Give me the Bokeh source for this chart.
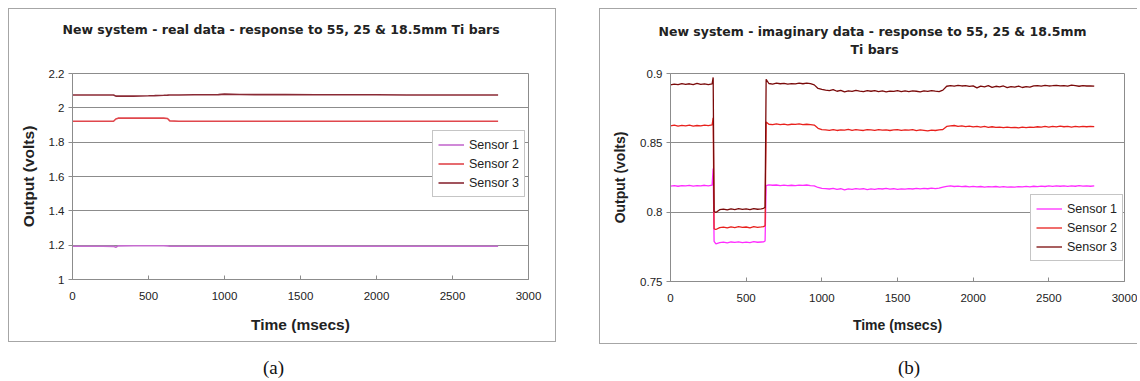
from bokeh.plotting import figure
from bokeh.models import FixedTicker, CustomJSTickFormatter, Legend, LegendItem, Title, Div, Spacer
from bokeh.layouts import row, column
from bokeh.embed import file_html
from bokeh.resources import INLINE

FONT = "Liberation Sans"
TFONT = "DejaVu Sans"

# ---------------- data: chart (a) real data ----------------
TITLE_A = "New system - real data - response to 55, 25 & 18.5mm Ti bars"
TA = [0, 100, 200, 270, 285, 300, 400, 500, 540, 600, 625, 640, 700, 800, 900,
      960, 1000, 1100, 1200, 1400, 1600, 1800, 2000, 2200, 2400, 2600, 2800]
S1A = [1.194, 1.194, 1.194, 1.193, 1.188, 1.196, 1.197, 1.197, 1.197, 1.197, 1.196, 1.194, 1.194, 1.194, 1.194,
       1.194, 1.194, 1.194, 1.194, 1.194, 1.194, 1.194, 1.194, 1.194, 1.194, 1.194, 1.194]
S2A = [1.922, 1.922, 1.922, 1.922, 1.935, 1.940, 1.940, 1.940, 1.940, 1.940, 1.938, 1.924, 1.922, 1.922, 1.922,
       1.922, 1.922, 1.922, 1.922, 1.922, 1.922, 1.922, 1.922, 1.922, 1.922, 1.922, 1.922]
S3A = [2.075, 2.075, 2.075, 2.075, 2.068, 2.069, 2.068, 2.070, 2.071, 2.073, 2.074, 2.075, 2.075, 2.076, 2.076,
       2.077, 2.080, 2.078, 2.077, 2.077, 2.076, 2.076, 2.076, 2.075, 2.075, 2.075, 2.075]
YTICKS_A = [1, 1.2, 1.4, 1.6, 1.8, 2, 2.2]

# ---------------- data: chart (b) imaginary data ----------------
TITLE_B1 = "New system - imaginary data - response to 55, 25 & 18.5mm"
TITLE_B2 = "Ti bars"
TB = [0, 25, 50, 75, 100, 125, 150, 175, 200, 225, 250, 275,
      282, 288,
      300, 325, 350, 375, 400, 425, 450, 475, 500, 525, 550, 575, 600,
      615, 625, 632,
      650, 675, 700, 725, 750, 775, 800, 825, 850, 875, 900, 925, 950, 975, 1000,
      1025, 1050, 1075, 1100, 1125, 1150, 1175, 1200, 1225, 1250,
      1275, 1300, 1325, 1350, 1375, 1400, 1425, 1450, 1475, 1500,
      1525, 1550, 1575, 1600, 1625, 1650, 1675, 1700, 1725, 1750,
      1775, 1800,
      1825, 1850, 1875, 1900, 1925, 1950, 1975, 2000, 2025, 2050,
      2075, 2100, 2125, 2150, 2175, 2200, 2225, 2250, 2275, 2300,
      2325, 2350, 2375, 2400, 2425, 2450, 2475, 2500, 2525, 2550,
      2575, 2600, 2625, 2650, 2675, 2700, 2725, 2750, 2775, 2800]
S3B = [0.8918, 0.8924, 0.8920, 0.8927, 0.8921, 0.8926, 0.8919, 0.8928, 0.8922, 0.8925, 0.8920, 0.8926,
       0.8972, 0.8005,
       0.7998, 0.8018, 0.8022, 0.8016, 0.8024, 0.8019, 0.8025, 0.8020, 0.8023, 0.8018, 0.8026, 0.8021, 0.8024,
       0.8028, 0.8035, 0.8958,
       0.8928, 0.8924, 0.8930, 0.8926, 0.8929, 0.8923, 0.8927, 0.8925, 0.8930, 0.8926, 0.8931, 0.8927, 0.8918, 0.8892, 0.8885,
       0.8880, 0.8876, 0.8884, 0.8872, 0.8879, 0.8868, 0.8875, 0.8871, 0.8878, 0.8873,
       0.8869, 0.8876, 0.8872, 0.8877, 0.8870, 0.8874, 0.8868, 0.8873, 0.8871, 0.8876,
       0.8869, 0.8874, 0.8870, 0.8875, 0.8872, 0.8868, 0.8874, 0.8871, 0.8877, 0.8873,
       0.8870, 0.8880,
       0.8908, 0.8912, 0.8909, 0.8914, 0.8910, 0.8913, 0.8907, 0.8911, 0.8896, 0.8909,
       0.8904, 0.8912, 0.8900, 0.8908, 0.8903, 0.8910, 0.8898, 0.8906, 0.8901, 0.8909,
       0.8899, 0.8905, 0.8902, 0.8911, 0.8913, 0.8909, 0.8914, 0.8910, 0.8912, 0.8915,
       0.8911, 0.8913, 0.8909, 0.8916, 0.8912, 0.8908, 0.8913, 0.8910, 0.8911, 0.8909]
S2B = [0.8622, 0.8627, 0.8620, 0.8626, 0.8623, 0.8628, 0.8621, 0.8625, 0.8622, 0.8627, 0.8624, 0.8629,
       0.8680, 0.7880,
       0.7875, 0.7888, 0.7892, 0.7886, 0.7894, 0.7889, 0.7895, 0.7890, 0.7893, 0.7887, 0.7896, 0.7891, 0.7894,
       0.7896, 0.7902, 0.8650,
       0.8634, 0.8631, 0.8636, 0.8632, 0.8635, 0.8630, 0.8634, 0.8633, 0.8636, 0.8631, 0.8634, 0.8632, 0.8628, 0.8605, 0.8596,
       0.8593, 0.8590, 0.8596, 0.8589, 0.8594, 0.8591, 0.8597, 0.8590, 0.8595, 0.8592,
       0.8589, 0.8596, 0.8593, 0.8590, 0.8595, 0.8591, 0.8594, 0.8589, 0.8593, 0.8596,
       0.8590, 0.8594, 0.8591, 0.8595, 0.8588, 0.8593, 0.8590, 0.8586, 0.8592, 0.8589,
       0.8594, 0.8596,
       0.8618, 0.8622, 0.8625, 0.8619, 0.8623, 0.8617, 0.8621, 0.8615, 0.8619, 0.8614,
       0.8618, 0.8612, 0.8616, 0.8611, 0.8614, 0.8610, 0.8613, 0.8609, 0.8612, 0.8608,
       0.8613, 0.8610, 0.8614, 0.8611, 0.8616, 0.8613, 0.8618, 0.8614, 0.8619, 0.8615,
       0.8620, 0.8616, 0.8619, 0.8614, 0.8618, 0.8615, 0.8619, 0.8616, 0.8618, 0.8617]
S1B = [0.8188, 0.8191, 0.8187, 0.8192, 0.8189, 0.8193, 0.8188, 0.8191, 0.8190, 0.8194, 0.8189, 0.8195,
       0.8315, 0.7790,
       0.7772, 0.7781, 0.7784, 0.7779, 0.7785, 0.7782, 0.7786, 0.7781, 0.7784, 0.7780, 0.7787, 0.7783, 0.7785,
       0.7786, 0.7792, 0.8192,
       0.8197, 0.8194, 0.8196, 0.8192, 0.8195, 0.8191, 0.8194, 0.8192, 0.8195, 0.8193, 0.8196, 0.8192, 0.8190, 0.8178, 0.8172,
       0.8170, 0.8167, 0.8172, 0.8165, 0.8169, 0.8160, 0.8168, 0.8164, 0.8170, 0.8166,
       0.8169, 0.8163, 0.8168, 0.8165, 0.8170, 0.8167, 0.8171, 0.8166, 0.8169, 0.8164,
       0.8168, 0.8166, 0.8170, 0.8167, 0.8171, 0.8168, 0.8172, 0.8169, 0.8173, 0.8170,
       0.8174, 0.8180,
       0.8186, 0.8189, 0.8185, 0.8188, 0.8184, 0.8187, 0.8183, 0.8186, 0.8182, 0.8185,
       0.8181, 0.8184, 0.8182, 0.8185, 0.8181, 0.8184, 0.8180, 0.8183, 0.8181, 0.8184,
       0.8182, 0.8186, 0.8183, 0.8187, 0.8184, 0.8188, 0.8185, 0.8189, 0.8186, 0.8190,
       0.8187, 0.8189, 0.8186, 0.8190, 0.8187, 0.8191, 0.8188, 0.8190, 0.8187, 0.8189]
YTICKS_B = [0.75, 0.8, 0.85, 0.9]
XTICKS = [0, 500, 1000, 1500, 2000, 2500, 3000]
SERIES = ["Sensor 1", "Sensor 2", "Sensor 3"]
COLORS_A = ["#c56ccf", "#e0474c", "#8a2a35"]
COLORS_B = ["#ff2cff", "#e8201c", "#7a0a0a"]

GRAY = "#8c8c8c"
TXT = "#222222"
FMT = CustomJSTickFormatter(code="return String(Number(tick.toFixed(4)));")


def make_fig(width, height, y0, y1, ml, mr, mt, mb, shadow, yticks):
    p = figure(width=width, height=height, x_range=(0, 3000), y_range=(y0, y1),
               output_backend="svg", toolbar_location=None,
               min_border_left=ml, min_border_right=mr, min_border_top=mt, min_border_bottom=mb,
               border_fill_color=None, background_fill_color="white",
               outline_line_color=GRAY, outline_line_width=1,
               styles={"box-shadow": shadow})
    p.xgrid.visible = False
    p.ygrid.grid_line_color = GRAY
    p.ygrid.grid_line_width = 1
    p.xaxis.ticker = FixedTicker(ticks=XTICKS)
    p.yaxis.ticker = FixedTicker(ticks=yticks)
    p.xaxis.formatter = FMT
    p.yaxis.formatter = FMT
    for ax in (p.xaxis[0], p.yaxis[0]):
        ax.axis_line_color = GRAY
        ax.major_tick_line_color = GRAY
        ax.minor_tick_line_color = None
        ax.major_label_text_font = FONT
        ax.major_label_text_font_size = "11.5px"
        ax.major_label_text_color = TXT
        ax.axis_label_text_font = FONT
        ax.axis_label_text_font_style = "bold"
        ax.axis_label_text_color = TXT
    p.xaxis.major_tick_in = 4
    p.xaxis.major_tick_out = 0
    p.yaxis.major_tick_in = 0
    p.yaxis.major_tick_out = 4
    p.xaxis.major_label_standoff = 12
    p.yaxis.major_label_standoff = 4
    p.xaxis.axis_label = "Time (msecs)"
    p.yaxis.axis_label = "Output (volts)"
    return p


def add_gap(p, standoff):
    # blank (non-breaking space) title that reserves vertical room between frame and title
    p.add_layout(Title(text="\u00a0", text_font=FONT, text_font_size="10px", standoff=standoff,
                       text_color=TXT), "above")


def add_title(p, text, standoff, offset):
    p.add_layout(Title(text=text, align="left", offset=offset, standoff=standoff,
                       text_font=TFONT, text_font_size="12.5px", text_font_style="bold",
                       text_color=TXT), "above")


def add_legend(p, renderers, loc):
    items = [LegendItem(label=s, renderers=[r]) for s, r in zip(SERIES, renderers)]
    leg = Legend(items=items, location=loc, border_line_color=GRAY, border_line_width=1,
                 background_fill_color="white", background_fill_alpha=1,
                 label_text_font=FONT, label_text_font_size="12.5px", label_text_color=TXT,
                 glyph_width=26, glyph_height=17, label_height=17, label_standoff=5,
                 spacing=2, padding=5, margin=0)
    p.add_layout(leg, "center")


# ---------------- chart (a) ----------------
pa = make_fig(548, 334, 1, 2.2, 64, 28, 63, 63, "inset 0 0 0 1px #a6a6a6", YTICKS_A)
pa.xaxis.axis_label_text_font_size = "15.5px"
pa.yaxis.axis_label_text_font_size = "15.5px"
pa.xaxis.axis_label_standoff = 13
pa.yaxis.axis_label_standoff = 9
add_gap(pa, 24)
add_title(pa, TITLE_A, 0, -10)
ra = [pa.line(TA, ys, line_color=c, line_width=1.6) for ys, c in zip([S1A, S2A, S3A], COLORS_A)]
add_legend(pa, ra, (360, 82))

# ---------------- chart (b) ----------------
pb = make_fig(538, 336, 0.75, 0.9, 71, 13, 65, 63,
              "inset 1px 0 0 #a6a6a6, inset 0 1px 0 #a6a6a6, inset 0 -1px 0 #a6a6a6", YTICKS_B)
pb.xaxis.axis_label_text_font_size = "14px"
pb.yaxis.axis_label_text_font_size = "14px"
pb.xaxis.axis_label_standoff = 12
pb.yaxis.axis_label_standoff = 9
add_gap(pb, 4)
add_title(pb, TITLE_B2, 0, 180)
add_title(pb, TITLE_B1, 2, -12)
rb = [pb.line(TB, ys, line_color=c, line_width=1.3) for ys, c in zip([S1B, S2B, S3B], COLORS_B)]
add_legend(pb, rb, (360, 20))

# ---------------- captions ----------------
cap_style = "position:absolute;top:8px;font-family:'Liberation Serif',serif;font-size:19px;color:#111;line-height:22px;"
captions = Div(
    text=(f'<div style="position:relative;width:1124px;height:28px;">'
          f'<span style="{cap_style}left:250px;">(a)</span>'
          f'<span style="{cap_style}left:885px;">(b)</span></div>'),
    width=1124, height=28)

layout = column(Spacer(height=8),
                row(Spacer(width=8), pa, Spacer(width=43), pb),
                row(Spacer(width=8), captions))
open("out.html", "w").write(file_html(layout, INLINE))
